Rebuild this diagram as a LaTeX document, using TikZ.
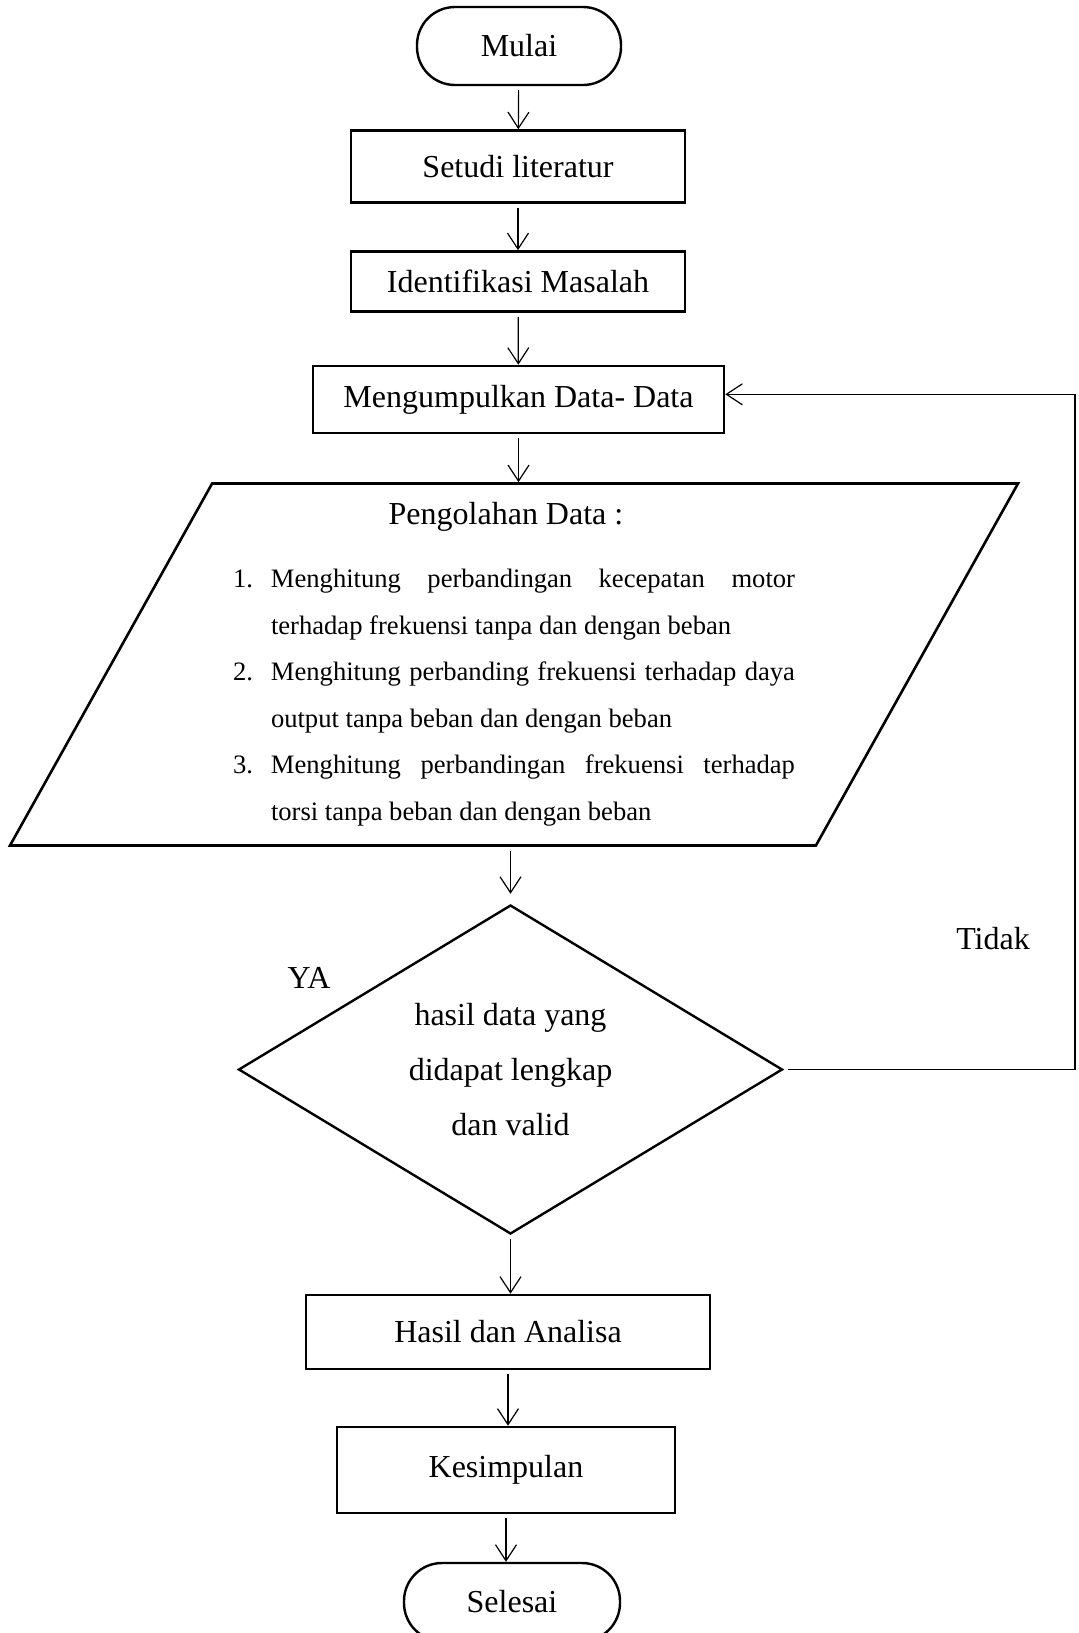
\documentclass[tikz,border=0pt]{standalone}
\usepackage{fontspec}
\setmainfont{Liberation Serif}
\usetikzlibrary{shapes.geometric,arrows.meta}

\begin{document}
\begin{tikzpicture}[x=0.5pt,y=-0.5pt,
		teks/.style={font=\fontsize{16}{19}\selectfont},
		ujung/.style={draw,rectangle,rounded corners=19pt,line width=1.2pt,minimum width=102pt,minimum height=39pt,teks},
		proses/.style={draw,rectangle,line width=1.3pt,inner sep=0pt,teks},
		panah/.style={line width=0.6pt,shorten <=2pt,-{Straight Barb[length=8pt,width=10.5pt,line width=0.6pt]}}]
			\useasboundingbox (0,0) rectangle (1078,1633);
			\node[ujung] (mulai)at(519,46) {Mulai};
			\node[proses,minimum width=167pt,minimum height=36pt] (setudi)at(518,166.5) {Setudi literatur};
			\node[proses,minimum width=167pt,minimum height=30pt] (identifikasi)at(518,281.5) {Identifikasi Masalah};
			\node[proses,minimum width=205.5pt,minimum height=33.5pt] (kumpul)at(518.5,399.5) {Mengumpulkan Data- Data};
			\node[draw,trapezium,trapezium left angle=58,trapezium right angle=122,trapezium stretches body,minimum width=504pt,minimum height=181pt,line width=1.3pt,inner sep=0pt] (olah)at(514,664.5) {\parbox{281pt}{\fontsize{13.3}{23.25}\selectfont\hyphenpenalty=10000\tolerance=10000
				{\centering\fontsize{16}{19}\selectfont\hspace*{-8pt}Pengolahan Data :\par}
				\vspace{8.25pt}
				\hangindent=19pt\hangafter=1\noindent\makebox[19pt][l]{1.}Menghitung perbandingan kecepatan motor\linebreak terhadap frekuensi tanpa dan dengan beban\par
				\hangindent=19pt\hangafter=1\noindent\makebox[19pt][l]{2.}Menghitung perbanding frekuensi terhadap daya\linebreak output tanpa beban dan dengan beban\par
				\hangindent=19pt\hangafter=1\noindent\makebox[19pt][l]{3.}Menghitung perbandingan frekuensi terhadap\linebreak torsi tanpa beban dan dengan beban\par}};
			\node[draw,diamond,aspect=1.65,line width=1.2pt,minimum width=272pt,minimum height=164.5pt,inner sep=0pt,align=center,font=\fontsize{16}{27.5}\selectfont] (cek)at(510.5,1069.5) {hasil data yang\\didapat lengkap\\dan valid};
			\node[proses,minimum width=202pt,minimum height=37pt] (hasil)at(508,1332) {Hasil dan Analisa};
			\node[proses,minimum width=169pt,minimum height=43pt] (kesimpulan)at(506,1470) {Kesimpulan};
			\node[ujung,minimum width=108pt] (selesai)at(512,1602) {Selesai};
			\node[teks,anchor=base] (ya)at(309,988) {YA};
			\node[teks,anchor=base] (tidak)at(993,949) {Tidak};
			\coordinate (belok) at (1075,1069.5);
			\draw[panah] (mulai) -- (setudi);
			\draw[panah] (setudi) -- (identifikasi);
			\draw[panah] (identifikasi) -- (kumpul);
			\draw[panah] (kumpul.south) -- (kumpul.south |- olah.north);
			\draw[panah,shorten >=5pt] (cek.north |- olah.south) -- (cek.north);
			\draw[panah] (cek.south) -- (cek.south |- hasil.north);
			\draw[panah] (hasil.south) -- (hasil.south |- kesimpulan.north);
			\draw[panah] (kesimpulan.south) -- (kesimpulan.south |- selesai.north);
			\draw[panah] (cek.east) -- (belok) |- ([yshift=2.6pt]kumpul.east);
		\end{tikzpicture}
\end{document}
